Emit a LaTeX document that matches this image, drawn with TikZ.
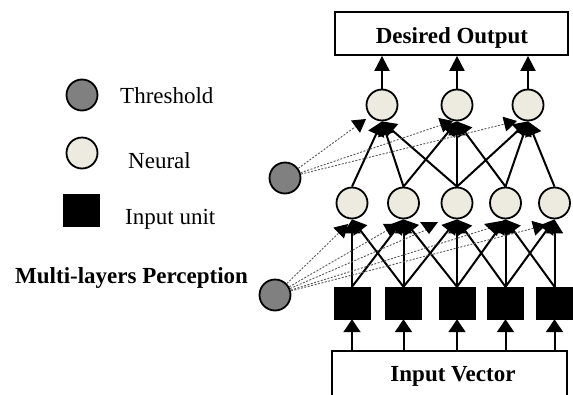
\documentclass[tikz,border=0pt]{standalone}
\usepackage{fontspec}
\setmainfont{Liberation Serif}
\usetikzlibrary{arrows.meta}
\definecolor{thrgray}{RGB}{128,128,128}
\definecolor{neufill}{RGB}{237,235,224}
\begin{document}
\begin{tikzpicture}[x=1pt,y=-1pt,
  threshold/.style={circle,draw,line width=1.8pt,fill=thrgray,minimum size=31pt,inner sep=0pt},
  neuron/.style={circle,draw,line width=1.8pt,fill=neufill,minimum size=31pt,inner sep=0pt},
  unit/.style={rectangle,fill=black,draw=black,minimum width=36pt,minimum height=32pt,inner sep=0pt},
  frame/.style={rectangle,draw,line width=1.8pt,inner sep=0pt},
  link/.style={line width=2pt,-{Triangle[width=17pt,length=14pt]}},
  bias/.style={draw=black!65,line width=0.9pt,dash pattern=on 2pt off 1.5pt},
  biastip/.style={bias,-{Triangle[width=15pt,length=13pt,color=black]}},
  txt/.style={font=\fontsize{23}{27}\selectfont,inner sep=0pt},
  btxt/.style={font=\fontsize{23}{27}\selectfont\bfseries,inner sep=0pt},
]
\useasboundingbox (0,0) rectangle (573,394);
\clip (0,0) rectangle (573,394);

% legend
\node[threshold] (lgthr) at (82,95) {};
\node[txt,anchor=base west] (lgthrtxt) at (120,103) {Threshold};
\node[neuron] (lgneu) at (82,153) {};
\node[txt,anchor=base west] (lgneutxt) at (128,168) {Neural};
\node[unit] (lgunit) at (81,210) {};
\node[txt,anchor=base west] (lgunittxt) at (125,224) {Input unit};
\node[btxt,anchor=base west] (title) at (15,283) {Multi-layers Perception};

% output and input frames
\node[frame,minimum width=233pt,minimum height=43pt] (out) at (451.5,33.5) {};
\node[btxt,anchor=base] (outtxt) at (452,43) {Desired Output};
\node[frame,minimum width=235pt,minimum height=60pt] (invec) at (449.5,381) {};
\node[btxt,anchor=base] (invectxt) at (453,381) {Input Vector};

% thresholds
\node[threshold] (uth) at (285,178) {};
\node[threshold] (lth) at (275,295) {};

% layers
\foreach \i/\x in {1/352,2/403.5,3/457,4/505.5,5/554.5}{
  \node[unit] (s\i) at (\x,303) {};
  \node[neuron] (m\i) at (\x,203) {};
}
\foreach \i/\x in {1/382,2/457,3/528}{
  \node[neuron] (t\i) at (\x,105) {};
}

% input vector to input units
\foreach \i in {1,...,5}{
  \draw[line width=2pt,-{Triangle[width=17pt,length=13pt]}] (s\i |- invec.north) -- (s\i.south);
}

% input units to hidden neurons
\foreach \i/\j in {1/1,1/2,2/1,2/2,2/3,3/2,3/3,3/4,4/3,4/4,4/5,5/4,5/5}{
  \draw[link] (s\i.north) -- (m\j.south);
}

% hidden neurons to output neurons
\foreach \i/\j in {1/1,2/1,2/2,3/1,3/2,3/3,4/2,4/3,5/3}{
  \draw[link] (m\i.north) -- (t\j.south);
}

% output neurons to desired output
\foreach \i in {1,2,3}{
  \draw[line width=2pt,-{Triangle[width=15pt,length=15pt]}] (t\i.north) -- (t\i.north |- out.south);
}

% threshold links, upper layer
\coordinate (ub1) at (366,119);
\coordinate (ub2) at (453,121);
\coordinate (ub3) at (517,121);
\foreach \k in {1,2,3}{
  \draw[biastip] (uth) -- (ub\k);
}

% threshold links, lower layer
\coordinate (lb1) at (348,224);
\coordinate (lb2) at (398,224);
\coordinate (lb3) at (428,229);
\coordinate (lb4) at (490,228);
\coordinate (lb5) at (546,225);
\draw[biastip] (lth) -- (lb1);
\draw[biastip] (lth) -- (lb2);
\draw[bias] (lth) -- (lb3);
\draw[bias] (lth) -- (lb4);
\draw[biastip] (lth) -- (lb5);
\fill (420,222) -- (438,222) -- (429,234) -- cycle;
\fill (484,224) -- (501,221) -- (497,236) -- cycle;
\end{tikzpicture}
\end{document}
